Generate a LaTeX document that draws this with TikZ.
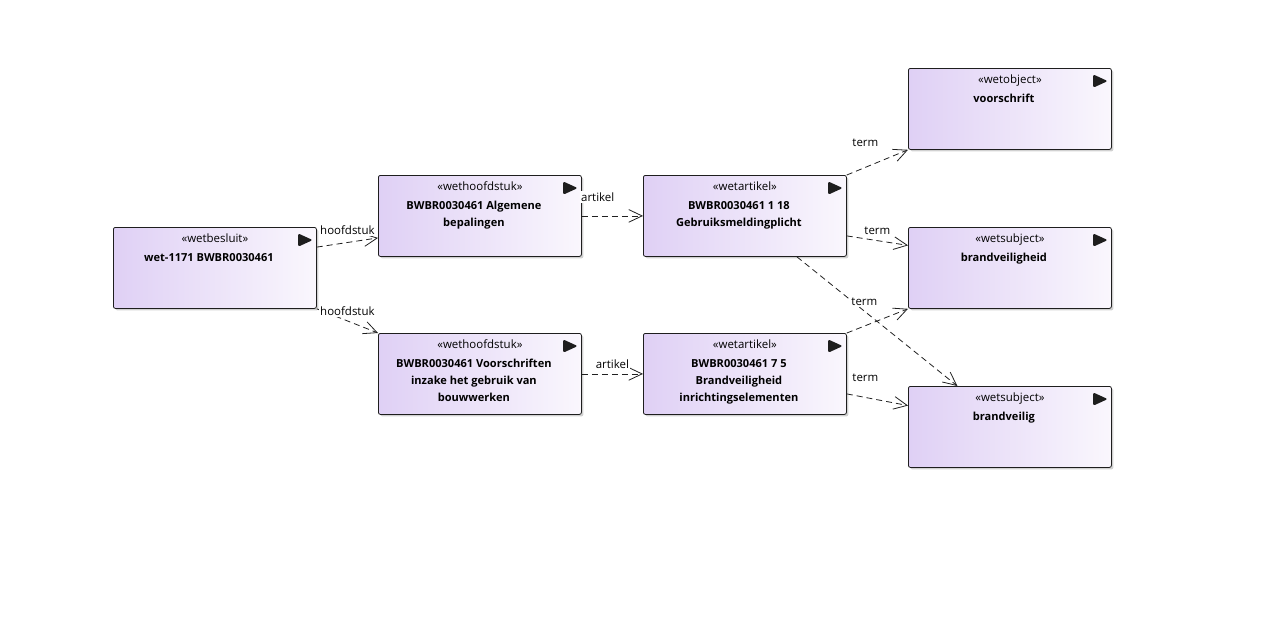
\documentclass[tikz,border=0pt]{standalone}
\usepackage{fontspec}
\setmainfont{Open Sans}
\usepackage{tikz}
\usetikzlibrary{positioning, arrows.meta, shadows}
\definecolor{elemLeft}{HTML}{DFD0F5}
\definecolor{elemRight}{HTML}{FAF7FD}
\definecolor{elemInk}{HTML}{1E1E1E}
\definecolor{relInk}{HTML}{202020}

% stereotype on top, name in bold below it (name sits a bit left of centre)
\newcommand{\elemtext}[2]{\parbox[c][60pt][t]{150pt}{\centering
  \rule{0pt}{11pt}«#1»\\[1.5pt]
  \hspace*{-9pt}\parbox[t]{150pt}{\centering\fontsize{8.3}{12.75}\selectfont\textbf{#2}}}}

\begin{document}
\begin{tikzpicture}[
  x=0.75pt, y=-0.75pt,
  every node/.style={font=\fontsize{8.6}{12.75}\selectfont},
  elem/.style={rectangle, draw=elemInk, line width=0.6pt, rounded corners=1.5pt,
               anchor=north west, inner sep=0pt,
               minimum width=152.25pt, minimum height=60.75pt,
               left color=elemLeft, right color=elemRight,
               drop shadow={shadow xshift=1.5pt, shadow yshift=-1.5pt,
                            fill=black!40, opacity=.45},
               path picture={\fill[elemInk]
                 ([xshift=-13.7pt,yshift=-4.5pt]path picture bounding box.north east)
                 -- ++(0pt,-10pt) -- ++(10.9pt,5pt) -- cycle;}},
  rel/.style={draw=relInk, line width=0.6pt, dash pattern=on 4.5pt off 3pt,
              -{Straight Barb[length=10pt, width=9.5pt]}},
  lbl/.style={fill=white, inner sep=1pt},
]
\useasboundingbox (0,0) rectangle (1279,633);

% Besluit and chapters
\node[elem] (besluit) at (113,227) {\elemtext{wetbesluit}{wet-1171 BWBR0030461}};
\node[elem] (hst1) at (378,175)
      {\elemtext{wethoofdstuk}{BWBR0030461 Algemene\\bepalingen}};
\node[elem] (hst2) at (378,333)
      {\elemtext{wethoofdstuk}{BWBR0030461 Voorschriften\\inzake het gebruik van\\bouwwerken}};

% Articles
\node[elem] (art1) at (643,175)
      {\elemtext{wetartikel}{BWBR0030461 1 18\\Gebruiksmeldingplicht}};
\node[elem] (art2) at (643,333)
      {\elemtext{wetartikel}{BWBR0030461 7 5\\Brandveiligheid\\inrichtingselementen}};

% Terms
\node[elem] (voorschrift) at (908,68) {\elemtext{wetobject}{voorschrift}};
\node[elem] (brandvh) at (908,227) {\elemtext{wetsubject}{brandveiligheid}};
\node[elem] (brandv) at (908,386) {\elemtext{wetsubject}{brandveilig}};

% Connectors
\draw[rel] ([yshift=15.6pt]besluit.east) -- node[lbl, yshift=9pt] {hoofdstuk}
      ([yshift=-16.5pt]hst1.west);
\draw[rel] (besluit.south east) -- node[lbl, yshift=7pt] {hoofdstuk} (hst2.north west);
\draw[rel] (hst1) -- node[lbl, xshift=-11pt, yshift=14pt] {artikel} (art1);
\draw[rel] (hst2) -- node[lbl, yshift=7.5pt] {artikel} (art2);
\draw[rel] ([xshift=39pt]art1.south) -- ([xshift=-39.4pt]brandv.north);
\draw[rel] (art1.north east) -- node[lbl, xshift=-9pt, yshift=15pt] {term}
      (voorschrift.south west);
\draw[rel] ([yshift=-15pt]art1.east) -- node[lbl, yshift=7.5pt] {term}
      ([yshift=16.9pt]brandvh.west);
\draw[rel] (art2.north east) -- node[lbl, xshift=-9.75pt, yshift=14.6pt] {term}
      (brandvh.south west);
\draw[rel] ([yshift=-15pt]art2.east) -- node[lbl, xshift=-9pt, yshift=16.5pt] {term}
      ([yshift=16pt]brandv.west);

\end{tikzpicture}
\end{document}
